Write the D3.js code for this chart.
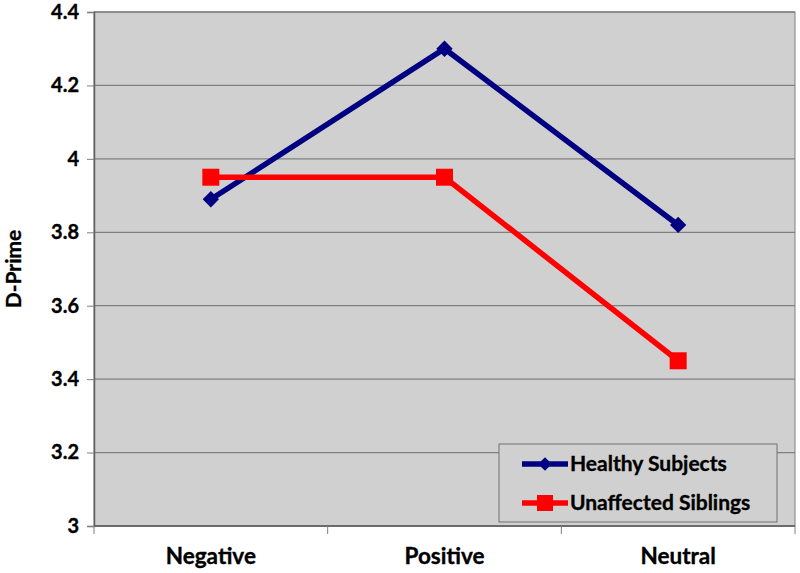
<!DOCTYPE html>
<html>
<head>
<meta charset="utf-8">
<script src="https://cdn.jsdelivr.net/npm/d3@7"></script>
<style>
  body { margin: 0; background: #fff; }
  text { font-family: Lato, "Open Sans", sans-serif; font-weight: bold; stroke: #000; stroke-width: 0.35px; }
</style>
</head>
<body>
<div id="viz"></div>
<script>
var categories = ['Negative', 'Positive', 'Neutral'];
var healthy = [3.89, 4.30, 3.82];
var siblings = [3.95, 3.95, 3.45];
var yTicks = [3, 3.2, 3.4, 3.6, 3.8, 4, 4.2, 4.4];
var seriesNames = ['Healthy Subjects', 'Unaffected Siblings'];

var W = 800, H = 573;
var m = { left: 94, right: 5, top: 12, bottom: 47 };

var svg = d3.select('#viz').append('svg')
  .attr('width', W)
  .attr('height', H);

var x = d3.scaleBand().domain(categories).range([m.left, W - m.right]);
var y = d3.scaleLinear().domain([3, 4.4]).range([H - m.bottom, m.top]);

// plot background
svg.append('rect')
  .attr('x', m.left).attr('y', m.top)
  .attr('width', W - m.right - m.left)
  .attr('height', H - m.bottom - m.top)
  .attr('fill', '#d0d0d0')
  .attr('stroke', '#808080');

// gridlines
svg.append('g').selectAll('line')
  .data(yTicks)
  .enter().append('line')
  .attr('x1', m.left).attr('x2', W - m.right)
  .attr('y1', function(d) { return y(d); })
  .attr('y2', function(d) { return y(d); })
  .attr('stroke', '#808080')
  .attr('stroke-width', 1.3);

// y axis
var yAxis = svg.append('g')
  .attr('transform', 'translate(' + m.left + ',0)')
  .call(d3.axisLeft(y).tickValues(yTicks).tickSize(7).tickPadding(8)
    .tickFormat(function(d) { return d3.format('')(+d.toFixed(1)); }));
yAxis.selectAll('text').attr('font-size', 20).attr('fill', '#000')
  .style('font-family', 'Lato, sans-serif').style('font-weight', 'bold');
yAxis.selectAll('line').attr('stroke', '#808080');
yAxis.select('.domain').attr('stroke', '#606060').attr('stroke-width', 1.5);

// x axis ticks at band boundaries
var xAxis = svg.append('g')
  .attr('transform', 'translate(0,' + (H - m.bottom) + ')');
xAxis.append('line')
  .attr('x1', m.left).attr('x2', W - m.right)
  .attr('stroke', '#606060').attr('stroke-width', 1.5);
xAxis.selectAll('.tk')
  .data(categories.concat(['end']))
  .enter().append('line')
  .attr('class', 'tk')
  .attr('x1', function(d, i) { return m.left + i * x.bandwidth(); })
  .attr('x2', function(d, i) { return m.left + i * x.bandwidth(); })
  .attr('y1', 0).attr('y2', 8)
  .attr('stroke', '#808080');
xAxis.selectAll('.lbl')
  .data(categories)
  .enter().append('text')
  .attr('class', 'lbl')
  .attr('x', function(d) { return x(d) + x.bandwidth() / 2; })
  .attr('y', 38)
  .attr('text-anchor', 'middle')
  .attr('font-size', 22.5)
  .text(function(d) { return d; });

// y axis title
svg.append('text')
  .attr('transform', 'translate(21,' + ((m.top + H - m.bottom) / 2) + ') rotate(-90)')
  .attr('text-anchor', 'middle')
  .attr('font-size', 21)
  .text('D-Prime');

var cx = function(d, i) { return x(categories[i]) + x.bandwidth() / 2; };
var line = d3.line()
  .x(function(d, i) { return cx(d, i); })
  .y(function(d) { return y(d); });

// healthy subjects
svg.append('path').datum(healthy)
  .attr('d', line)
  .attr('fill', 'none')
  .attr('stroke', '#000080')
  .attr('stroke-width', 5.5);
svg.selectAll('.dia').data(healthy).enter().append('path')
  .attr('class', 'dia')
  .attr('d', d3.symbol().type(d3.symbolDiamond2).size(170))
  .attr('transform', function(d, i) { return 'translate(' + cx(d, i) + ',' + y(d) + ')'; })
  .attr('fill', '#000080');

// unaffected siblings
svg.append('path').datum(siblings)
  .attr('d', line)
  .attr('fill', 'none')
  .attr('stroke', '#ff0000')
  .attr('stroke-width', 5.5);
svg.selectAll('.sq').data(siblings).enter().append('rect')
  .attr('class', 'sq')
  .attr('x', function(d, i) { return cx(d, i) - 8.5; })
  .attr('y', function(d) { return y(d) - 8.5; })
  .attr('width', 17).attr('height', 17)
  .attr('fill', '#ff0000');

// legend
var lg = svg.append('g');
lg.append('rect')
  .attr('x', 499).attr('y', 444)
  .attr('width', 278).attr('height', 78)
  .attr('fill', '#d0d0d0')
  .attr('stroke', '#707070');
var colors = ['#000080', '#ff0000'];
seriesNames.forEach(function(name, i) {
  var ly = 464 + i * 39;
  lg.append('line')
    .attr('x1', 522).attr('x2', 568)
    .attr('y1', ly).attr('y2', ly)
    .attr('stroke', colors[i]).attr('stroke-width', 5.5);
  if (i === 0) {
    lg.append('path')
      .attr('d', d3.symbol().type(d3.symbolDiamond2).size(120))
      .attr('transform', 'translate(545,' + ly + ')')
      .attr('fill', colors[i]);
  } else {
    lg.append('rect')
      .attr('x', 537).attr('y', ly - 8)
      .attr('width', 16).attr('height', 16)
      .attr('fill', colors[i]);
  }
  lg.append('text')
    .attr('x', 570).attr('y', ly + 7)
    .attr('font-size', 21)
    .text(name);
});
</script>
</body>
</html>
